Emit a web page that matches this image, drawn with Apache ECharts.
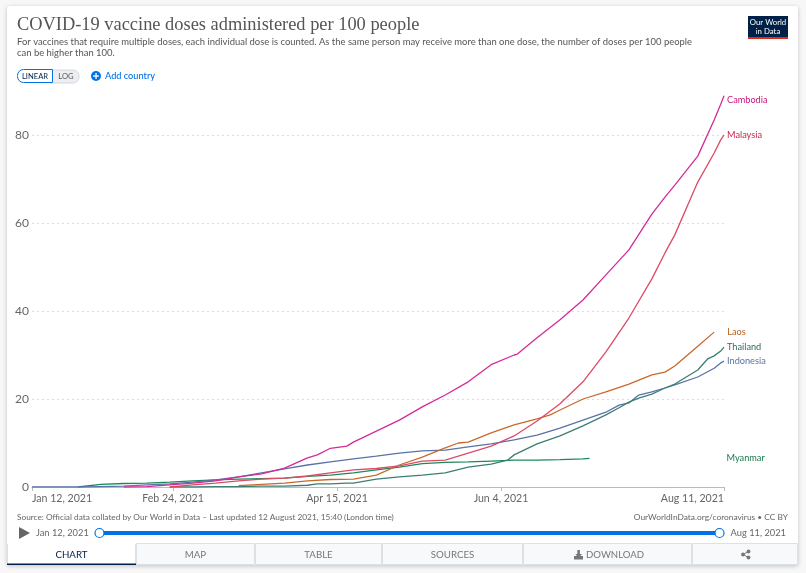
<!DOCTYPE html>
<html>
<head>
<meta charset="utf-8">
<style>
html,body{margin:0;padding:0;background:#f7f7f7;}
#main{width:806px;height:573px;}
</style>
<script src="https://cdn.jsdelivr.net/npm/echarts@6/dist/echarts.min.js"></script>
</head>
<body>
<div id="main"></div>
<script>
var N = null;
var dates = ['2021-01-12','2021-01-19','2021-01-26','2021-02-02','2021-02-09','2021-02-16','2021-02-23','2021-03-02','2021-03-09','2021-03-16','2021-03-23','2021-03-30','2021-04-06','2021-04-09','2021-04-13','2021-04-18','2021-04-20','2021-04-27','2021-05-04','2021-05-11','2021-05-18','2021-05-22','2021-05-25','2021-06-01','2021-06-06','2021-06-08','2021-06-09','2021-06-15','2021-06-19','2021-06-22','2021-06-29','2021-07-01','2021-07-06','2021-07-10','2021-07-13','2021-07-16','2021-07-20','2021-07-24','2021-07-27','2021-08-03','2021-08-06','2021-08-08','2021-08-10','2021-08-11'];
var cambodia = [N,N,N,N,0,0.1,0.5,0.9,1.4,2.3,3.0,4.3,6.6,7.3,8.8,9.3,10.2,12.7,15.2,18.2,20.9,N,23.9,27.8,N,30.0,30.2,33.9,N,38.0,42.5,N,48.2,N,53.9,N,62.0,65.9,68.6,75.2,N,83.4,87.0,88.9];
var malaysia = [N,N,N,N,N,N,0,0.5,0.9,1.4,1.8,2.0,2.5,N,3.2,N,3.9,4.2,4.8,5.9,6.1,N,7.7,9.3,N,11.6,N,15.0,N,18.9,23.9,N,30.7,N,38.4,N,47.3,53.2,57.3,69.3,N,75.9,78.9,80.0];
var laos = [N,N,N,N,N,N,N,N,N,0.3,0.6,0.9,1.4,N,1.7,N,1.8,2.7,5.0,6.8,8.9,10.0,10.2,12.3,N,14.1,N,15.5,16.4,17.5,20.0,N,21.6,N,23.4,N,25.5,26.1,27.5,32.0,N,35.2,N,N];
var thailand = [N,N,N,N,N,N,0,0,0.1,0.1,0.2,0.2,0.4,0.7,0.7,0.9,0.9,1.8,2.3,2.7,3.2,N,4.5,5.2,6.1,7.3,N,9.8,N,11.6,13.9,N,16.4,18.0,19.3,20.2,21.1,22.5,23.4,26.6,29.1,29.8,30.9,31.8];
var indonesia = [0,0,0,0.1,0.2,0.5,0.7,1.1,1.6,2.3,3.2,4.1,5.0,N,5.7,N,6.4,7.0,7.7,8.2,8.4,N,9.1,9.8,N,10.7,N,11.8,N,13.4,15.2,N,17.0,18.6,19.1,20.9,21.6,22.5,23.2,25.0,N,27.0,28.2,28.6];
var myanmar = [N,N,0,0.6,0.8,0.9,1.1,1.4,1.6,1.8,1.9,2.0,2.4,N,2.7,N,3.2,3.9,4.5,5.3,5.6,N,5.7,5.9,N,6.1,N,6.1,N,6.2,6.4,6.5,N,N,N,N,N,N,N,N,N,N,N,N];
var tickDates = ['2021-01-12','2021-02-24','2021-04-15','2021-06-04','2021-08-11'];
var tickLabels = ['Jan 12, 2021','Feb 24, 2021','Apr 15, 2021','Jun 4, 2021','Aug 11, 2021'];

var FONT = 'Lato, sans-serif';

// x axis runs in days since the first date
function dayOf(d) {
	return Math.round((Date.parse(d) - Date.parse(dates[0])) / 86400000);
}
var tickDays = tickDates.map(dayOf);

function line(name, values, color, labelColor, offset) {
	return {
		name: name,
		type: 'line',
		showSymbol: false,
		silent: true,
		lineStyle: { color: color, width: 1.3 },
		itemStyle: { color: color },
		data: dates.map(function (d, i) { return [dayOf(d), values[i]]; }).filter(function (p) { return p[1] !== null; }),
		endLabel: {
			show: true,
			formatter: name,
			color: labelColor,
			fontFamily: FONT,
			fontSize: 9.2,
			offset: offset
		}
	};
}

function txt(x, y, text, size, color, align, extra) {
	var style = { x: x, y: y, text: text, font: size + 'px ' + FONT, fill: color, align: align || 'left', verticalAlign: 'middle' };
	for (var k in extra) style[k] = extra[k];
	return { type: 'text', style: style, z: 10 };
}
function box(x, y, w, h, fill, stroke, r, extra) {
	var el = { type: 'rect', shape: { x: x, y: y, width: w, height: h, r: r || 0 }, style: { fill: fill, stroke: stroke || null, lineWidth: 1 }, z: 5 };
	for (var k in extra) el[k] = extra[k];
	return el;
}

var card = box(7, 6, 791, 559, '#fff', null, 2, { z: -10, style: { fill: '#fff', shadowBlur: 4, shadowColor: 'rgba(0,0,0,0.22)', shadowOffsetY: 1 } });

var header = [
	txt(17, 25, 'COVID-19 vaccine doses administered per 100 people', 18.4, '#555', 'left', { font: '18.4px "Liberation Serif", serif' }),
	txt(17, 42, 'For vaccines that require multiple doses, each individual dose is counted. As the same person may receive more than one dose, the number of doses per 100 people', 9.45, '#555'),
	txt(17, 53, 'can be higher than 100.', 9.45, '#555'),
	box(748, 16, 40, 23, '#002147'),
	box(748, 37, 40, 2, '#dc2e1c'),
	txt(768, 22, 'Our World', 7.8, '#fff', 'center'),
	txt(768, 31, 'in Data', 7.8, '#fff', 'center'),
	box(50, 70, 29, 13, '#eceef1', '#d5d8dc', [0, 6, 6, 0]),
	box(17.5, 69.5, 35, 13, '#fff', '#0073e6', [6, 0, 0, 6]),
	txt(35, 76.5, 'LINEAR', 7.6, '#002147', 'center'),
	txt(66, 76.5, 'LOG', 7.6, '#555', 'center'),
	{ type: 'circle', shape: { cx: 96, cy: 76, r: 5 }, style: { fill: '#0073e6' }, z: 10 },
	box(93, 75.4, 6, 1.3, '#fff', null, 0, { z: 11 }),
	box(95.4, 73, 1.3, 6, '#fff', null, 0, { z: 11 }),
	txt(105, 76, 'Add country', 9.2, '#0073e6', 'left', { font: '500 9.2px ' + FONT })
];

var footer = [
	txt(17, 517, 'Source: Official data collated by Our World in Data \u2013 Last updated 12 August 2021, 15:40 (London time)', 8.27, '#666'),
	txt(788, 517, 'OurWorldInData.org/coronavirus \u2022 CC BY', 8.4, '#666', 'right'),
	{ type: 'polygon', shape: { points: [[19, 527], [30, 533], [19, 539]] }, style: { fill: '#666' }, z: 10 },
	txt(36, 533, 'Jan 12, 2021', 9.3, '#666'),
	txt(786, 533, 'Aug 11, 2021', 9.3, '#666', 'right'),
	box(99, 531, 620, 4, '#0073e6', null, 0),
	{ type: 'circle', shape: { cx: 99.5, cy: 533, r: 4.5 }, style: { fill: '#fff', stroke: '#0073e6', lineWidth: 1.2 }, z: 10 },
	{ type: 'circle', shape: { cx: 719.5, cy: 533, r: 4.5 }, style: { fill: '#fff', stroke: '#0073e6', lineWidth: 1.2 }, z: 10 }
];

// tabs along the bottom
var tabEdges = [7, 136, 255, 382, 523, 692, 798];
var tabNames = ['CHART', 'MAP', 'TABLE', 'SOURCES', '', ''];
var tabs = [];
tabEdges.slice(0, -1).forEach(function (x0, i) {
	var w = tabEdges[i + 1] - x0;
	tabs.push(box(x0 + 0.5, 543.5, w - 1, 21, i === 0 ? '#fff' : '#f8f9fb', '#dde0e4'));
	if (tabNames[i]) tabs.push(txt(x0 + w / 2, 555, tabNames[i], 9.7, i === 0 ? '#002147' : '#777', 'center'));
});
tabs.push(box(7, 563.5, 129, 1.5, '#002147', null, 0, { z: 6 }));
tabs.push(box(7, 543, 129, 1, '#fff', null, 0, { z: 6 }));
tabs.push(txt(586, 555, 'DOWNLOAD', 9.6, '#777'));
tabs.push(box(574, 556, 9, 3.5, '#777', null, 0, { z: 10 }));
tabs.push(box(577.3, 550, 2.6, 4, '#777', null, 0, { z: 10 }));
tabs.push({ type: 'polygon', shape: { points: [[575.3, 554], [582, 554], [578.6, 558]] }, style: { fill: '#777' }, z: 10 });
tabs.push({ type: 'polyline', shape: { points: [[748.5, 551.5], [743, 554.5], [748.5, 557.5]] }, style: { stroke: '#777', fill: null, lineWidth: 1 }, z: 10 });
tabs.push({ type: 'circle', shape: { cx: 748.5, cy: 551.5, r: 1.9 }, style: { fill: '#777' }, z: 10 });
tabs.push({ type: 'circle', shape: { cx: 743, cy: 554.5, r: 1.9 }, style: { fill: '#777' }, z: 10 });
tabs.push({ type: 'circle', shape: { cx: 748.5, cy: 557.5, r: 1.9 }, style: { fill: '#777' }, z: 10 });

var chart = echarts.init(document.getElementById('main'));
chart.setOption({
	animation: false,
	backgroundColor: '#f7f7f7',
	grid: { left: 32, right: 82, top: 91, bottom: 86, containLabel: false },
	xAxis: {
		type: 'value',
		min: 0,
		max: 211,
		splitLine: { show: false },
		axisLine: { lineStyle: { color: '#bbb', width: 1 } },
		axisTick: { show: true, customValues: tickDays, length: 4, lineStyle: { color: '#bbb' } },
		axisLabel: {
			customValues: tickDays,
			alignMinLabel: 'left',
			alignMaxLabel: 'right',
			showMinLabel: true,
			showMaxLabel: true,
			margin: 6,
			color: '#666',
			fontFamily: FONT,
			fontSize: 10.6,
			formatter: function (v) { return tickLabels[tickDays.indexOf(v)] || ''; }
		}
	},
	yAxis: {
		type: 'value',
		min: 0,
		max: 90,
		interval: 20,
		axisLine: { show: false },
		axisTick: { show: false },
		axisLabel: { color: '#666', fontFamily: FONT, fontSize: 12, margin: 3, showMaxLabel: false },
		splitLine: { showMaxLine: false, lineStyle: { color: '#ddd', type: [2, 3] } }
	},
	series: [
		line('Myanmar', myanmar, '#1b8a5a', '#18794e', [129, 0]),
		line('Indonesia', indonesia, '#5873a6', '#5873a6', [-5, 0]),
		line('Thailand', thailand, '#3b7f74', '#2c6b60', [-5, 0]),
		line('Laos', laos, '#c8692c', '#b8611f', [5, 0]),
		line('Malaysia', malaysia, '#dd4a66', '#c8254c', [-5, 0]),
		line('Cambodia', cambodia, '#d42c96', '#c9177c', [-5, 4])
	],
	graphic: { elements: [card].concat(header, footer, tabs) }
});
</script>
</body>
</html>
